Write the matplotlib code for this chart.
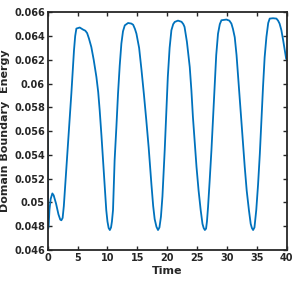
import matplotlib
matplotlib.use("Agg")
import matplotlib.pyplot as plt
from matplotlib.ticker import FixedLocator, FuncFormatter

# values
time = [0.0, 0.04, 0.08, 0.15, 0.3, 0.5, 0.78, 1.0, 1.4, 1.8, 2.1, 2.29, 2.5,
        2.7, 2.85, 3.1, 3.4, 3.7, 3.96, 4.2, 4.4, 4.6, 4.8, 5.36, 5.9, 6.3,
        6.6, 6.9, 7.3, 7.7, 8.15, 8.45, 8.7, 9.0, 9.26, 9.55, 9.8, 10.0, 10.2,
        10.4, 10.6, 10.75, 10.93, 11.2, 11.5, 11.77, 12.05, 12.33, 12.6, 12.9,
        13.45, 14.0, 14.3, 14.6, 14.85, 15.3, 15.7, 16.1, 16.5, 16.9, 17.36,
        17.65, 17.9, 18.2, 18.46, 18.7, 18.95, 19.2, 19.58, 19.85, 20.1, 20.4,
        20.7, 21.0, 21.26, 21.8, 22.4, 22.7, 22.9, 23.3, 23.77, 24.05, 24.3,
        24.6, 24.9, 25.25, 25.6, 25.9, 26.1, 26.3, 26.5, 26.65, 26.83, 27.1,
        27.4, 27.7, 27.95, 28.2, 28.5, 28.8, 29.07, 29.9, 30.4, 30.74, 31.0,
        31.3, 31.6, 31.85, 32.25, 32.7, 32.97, 33.3, 33.67, 33.97, 34.17,
        34.37, 34.6, 34.9, 35.2, 35.5, 35.75, 36.03, 36.3, 36.6, 36.9, 37.15,
        37.7, 38.27, 38.55, 38.8, 39.1, 39.4, 39.9]
energy = [0.0558, 0.0515, 0.0478, 0.0480, 0.0494, 0.0503, 0.05076, 0.0506,
          0.0499, 0.0490, 0.04856, 0.0485, 0.0487, 0.0497, 0.0508, 0.0527,
          0.05497, 0.0572, 0.05917, 0.0612, 0.0628, 0.0640, 0.06463, 0.06472,
          0.06455, 0.06445, 0.06425, 0.0638, 0.06308, 0.0620, 0.06056, 0.0593,
          0.05776, 0.0556, 0.05356, 0.0512, 0.04936, 0.0484, 0.04785, 0.04768,
          0.0479, 0.0484, 0.04936, 0.05356, 0.0564, 0.05917, 0.0615, 0.06337,
          0.0644, 0.0649, 0.0651, 0.06505, 0.06495, 0.0646, 0.0642, 0.0630,
          0.06113, 0.0591, 0.05692, 0.0546, 0.0515, 0.0497, 0.0486, 0.04795,
          0.04768, 0.0479, 0.0488, 0.0505, 0.0544, 0.0576, 0.06056, 0.0630,
          0.06449, 0.0650, 0.06519, 0.0653, 0.0652, 0.0650, 0.06477, 0.0635,
          0.0614, 0.0594, 0.0572, 0.0551, 0.053, 0.0510, 0.04936, 0.0482,
          0.04785, 0.04768, 0.0478, 0.0484, 0.0496, 0.0518, 0.0544, 0.0574,
          0.060, 0.0624, 0.0642, 0.0650, 0.06533, 0.06539, 0.0653, 0.06505,
          0.0646, 0.0639, 0.0624, 0.0607, 0.0580, 0.0550, 0.0530, 0.0510,
          0.04936, 0.0482, 0.04785, 0.04768, 0.0479, 0.04936, 0.0515, 0.05412,
          0.0568, 0.05972, 0.0622, 0.06393, 0.0651, 0.06547, 0.0655, 0.06547,
          0.0653, 0.06505, 0.0645, 0.06365, 0.0621]

x_ticks = [0, 5, 10, 15, 20, 25, 30, 35, 40]
y_ticks = [0.046, 0.048, 0.05, 0.052, 0.054, 0.056, 0.058, 0.06, 0.062, 0.064, 0.066]

ink = "#262626"
plt.rcParams["font.family"] = "DejaVu Sans"
plt.rcParams["font.weight"] = "bold"

fig = plt.figure(figsize=(2.99, 3.0), dpi=100)
ax = fig.add_axes([0.1595, 0.1667, 0.7995, 0.7923])
ax.plot(time, energy, color="#0072BD", lw=1.3, solid_joinstyle="round")

ax.set_xlim(0, 40)
ax.set_ylim(0.046, 0.066)
ax.xaxis.set_major_locator(FixedLocator(x_ticks))
ax.yaxis.set_major_locator(FixedLocator(y_ticks))
ax.yaxis.set_major_formatter(FuncFormatter(lambda v, p: f"{v:g}"))
ax.tick_params(direction="in", length=3, width=1.0, colors=ink, labelsize=7,
               top=True, right=True, pad=2)
for s in ax.spines.values():
    s.set_linewidth(1.3)
    s.set_color(ink)

ax.set_xlabel("Time", fontsize=8, fontweight="bold", color=ink, labelpad=2)
ax.set_ylabel("Domain Boundary  Energy", fontsize=8, fontweight="bold", color=ink, labelpad=3)

fig.savefig("out.png", dpi=100)
